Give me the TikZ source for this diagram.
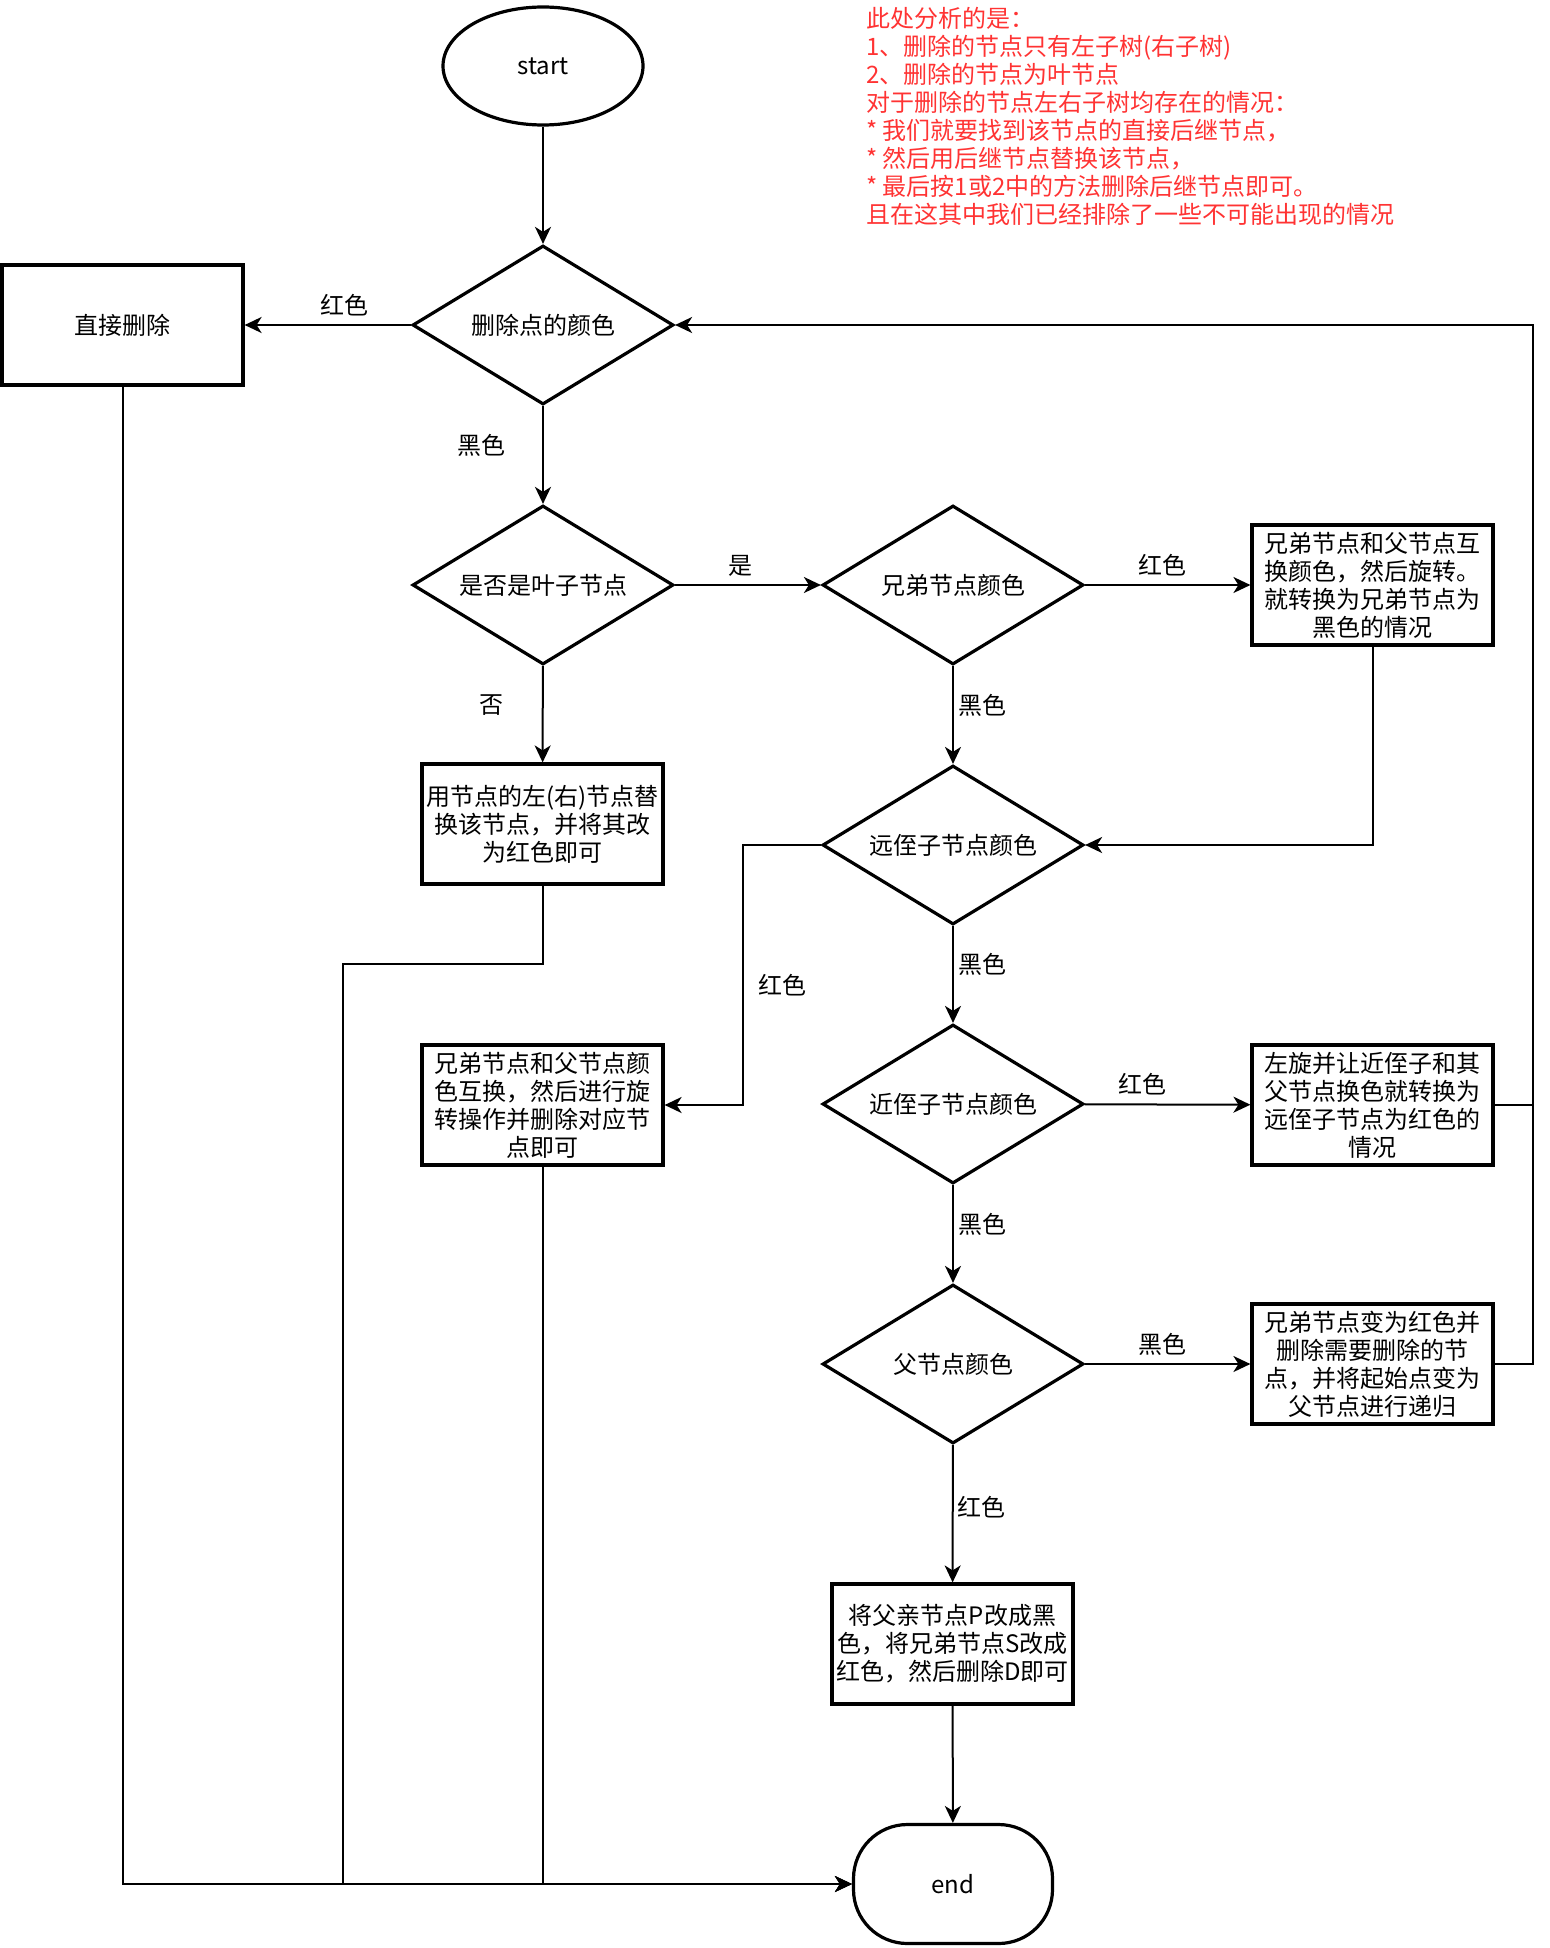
\documentclass[tikz,border=0pt]{standalone}
\usepackage{fontspec}
\setmainfont{Noto Sans CJK SC}
\usepackage{tikz}
\usetikzlibrary{arrows.meta,shapes.geometric,positioning}
\definecolor{notered}{RGB}{255,51,51}
\tikzstyle{decision}=[diamond, draw, line width=1.6pt, aspect=1.64, minimum width=130.5pt, minimum height=79.5pt, inner sep=0pt]
\tikzstyle{block}=[rectangle, draw, line width=1.6pt, minimum width=120.5pt, minimum height=60pt, inner sep=0pt, align=center]
\tikzstyle{arrow}=[-{Stealth[length=8.5pt,width=8pt,inset=2.5pt]}, line width=1pt]
\tikzstyle{lbl}=[inner sep=4pt]
\newcommand{\decnode}{\node[decision]}
\newcommand{\boxnode}{\node[block]}

\begin{document}
\begin{tikzpicture}[x=0.5pt, y=-0.5pt, font=\fontsize{12pt}{14pt}\selectfont]
\useasboundingbox (0,0) rectangle (1550,1948);

\node[draw, ellipse, line width=1.6pt, minimum width=100pt, minimum height=59pt] (start) at (543,66) {start};
    \decnode (delcol) at (543,325) {删除点的颜色};
    \boxnode (direct) at (122.5,325) {直接删除};
    \decnode (leaf) at (543,585) {是否是叶子节点};
    \decnode (sibcol) at (953,585) {兄弟节点颜色};
    \boxnode (sibred) at (1372.5,585) {兄弟节点和父节点互\\换颜色，然后旋转。\\就转换为兄弟节点为\\黑色的情况};
    \boxnode (replace) at (542.5,824) {用节点的左(右)节点替\\换该节点，并将其改\\为红色即可};
    \decnode (farcol) at (953,845) {远侄子节点颜色};
    \boxnode (farred) at (542.5,1105) {兄弟节点和父节点颜\\色互换，然后进行旋\\转操作并删除对应节\\点即可};
    \decnode (nearcol) at (953,1104) {近侄子节点颜色};
    \boxnode (nearred) at (1372.5,1105) {左旋并让近侄子和其\\父节点换色就转换为\\远侄子节点为红色的\\情况};
    \decnode (parcol) at (953,1364) {父节点颜色};
    \boxnode (parblack) at (1372.5,1364) {兄弟节点变为红色并\\删除需要删除的节\\点，并将起始点变为\\父节点进行递归};
    \boxnode (parred) at (952.5,1644) {将父亲节点P改成黑\\色，将兄弟节点S改成\\红色，然后删除D即可};
\node[draw, rectangle, rounded corners=27pt, line width=1.6pt, minimum width=99.5pt, minimum height=59.5pt] (end) at (953,1884) {end};

% note in the upper right corner
\node[anchor=north west, inner sep=0pt, align=left, text=notered] (note) at (866,7) {此处分析的是：\\1、删除的节点只有左子树(右子树)\\2、删除的节点为叶节点\\对于删除的节点左右子树均存在的情况：\\* 我们就要找到该节点的直接后继节点，\\* 然后用后继节点替换该节点，\\* 最后按1或2中的方法删除后继节点即可。\\且在这其中我们已经排除了一些不可能出现的情况};

\coordinate (loop) at (1533,325);
\coordinate (farbend) at (743,845);
\coordinate (replbend) at (343,964);

    \path[arrow]
    (start) edge (delcol)
    (delcol) edge node[lbl, pos=.4, above] {红色} (direct)
    (delcol) edge node[lbl, pos=.4, left=14.5pt] {黑色} (leaf)
    (leaf) edge node[lbl, pos=.45, above] {是} (sibcol)
    (leaf) edge node[lbl, pos=.4, left=15pt] {否} (replace)
    (sibcol) edge node[lbl, pos=.47, above] {红色} (sibred)
    (sibcol) edge node[lbl, pos=.4, right=-2pt] {黑色} (farcol)
    (farcol) edge node[lbl, pos=.4, right=-2pt] {黑色} (nearcol)
    (nearcol) edge node[lbl, pos=.35, above] {红色} (nearred)
    (nearcol) edge node[lbl, pos=.4, right=-2pt] {黑色} (parcol)
    (parcol) edge node[lbl, pos=.47, above] {黑色} (parblack)
    (parcol) edge node[lbl, pos=.45, right=-2pt] {红色} (parred)
    (parred) edge (end)
    ;
    \draw[arrow] (sibred) |- (farcol);
    \draw[arrow] (farcol.west) -- (farbend) |- node[lbl, pos=.27, right=3pt] {红色} (farred);
    \draw[line width=1pt] (nearred.east) -- (nearred.east -| loop);
    \draw[arrow] (parblack.east) -| (loop) -- (delcol.east);
    \draw[arrow] (direct) |- (end);
    \draw[arrow] (replace) |- (replbend) |- (end.west);
    \draw[arrow] (farred) |- (end);
\end{tikzpicture}
\end{document}
